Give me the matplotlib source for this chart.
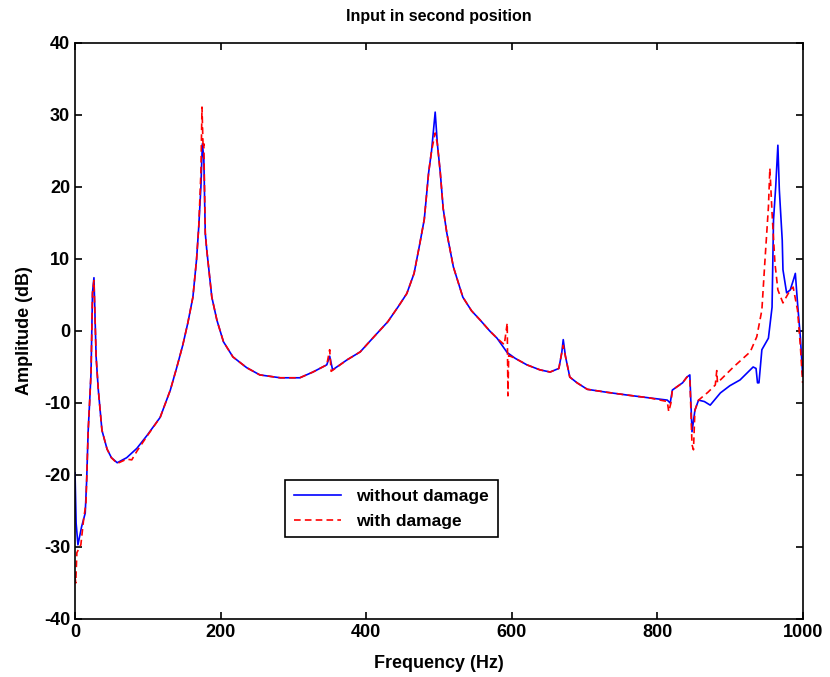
import matplotlib
matplotlib.use("Agg")
import matplotlib.pyplot as plt

# ---- data ----
freq_nodamage = [0, 1.5, 4, 9, 14, 16, 18, 20, 22, 24, 26, 29, 32, 37, 44, 50, 58, 71, 85, 99,
                 117, 131, 140, 148, 155, 162, 167, 170, 173, 175, 177, 179, 181, 188, 195, 204,
                 217, 236, 254, 282, 309, 327, 346, 350, 354, 374, 392, 410, 430, 445, 456, 466,
                 474, 480, 486, 490, 495, 498, 502, 506, 511, 520, 533, 545, 557, 570, 580, 594,
                 605, 621, 639, 653, 665, 669, 671, 674, 680, 690, 704, 730, 759, 790, 814, 818,
                 821, 835, 841, 845, 848, 852, 857, 865, 873, 887, 900, 914, 932, 936, 938, 940,
                 944, 953, 958, 960, 963, 966, 968, 972, 973, 978, 983, 988, 990, 993, 997, 1000]
amp_nodamage = [-19.7, -26.7, -29.7, -27.2, -25.3, -20.7, -14, -10, -5.8, 5.3, 7.4, -3.6, -8.2,
                -13.8, -16.4, -17.6, -18.3, -17.6, -16.3, -14.5, -12, -8.2, -5, -2, 1.1, 4.7, 9.9,
                14.4, 20, 26, 24, 13.6, 11.3, 4.7, 1.5, -1.5, -3.6, -5.1, -6.1, -6.5, -6.5, -5.7,
                -4.7, -3.5, -5.4, -4, -2.9, -0.9, 1.3, 3.5, 5.2, 8, 12.2, 15.5, 22, 25, 30.4, 26,
                22, 17, 13.6, 8.9, 4.7, 2.8, 1.5, 0, -1, -3, -3.8, -4.7, -5.4, -5.7, -5.2, -3,
                -1.2, -3.5, -6.4, -7.2, -8.1, -8.5, -8.9, -9.3, -9.6, -10.0, -8.2, -7.2, -6.4,
                -6.1, -14, -11, -9.6, -9.8, -10.3, -8.6, -7.6, -6.8, -5, -5.2, -7.2, -7.2, -2.6,
                -1, 3.3, 15.4, 20, 25.8, 19.6, 12.6, 8.5, 5.3, 5.7, 7.3, 8, 3.9, -1, -6]

freq_damage = [0, 1, 2.5, 8, 12, 15, 18, 20, 22, 24, 26, 29, 32, 37, 44, 50, 58, 71, 78, 85, 99,
               117, 131, 140, 148, 155, 162, 167, 170, 173, 174.5, 176, 177, 179, 181, 188, 195,
               204, 217, 236, 254, 282, 309, 327, 346, 350, 352, 374, 392, 410, 430, 445, 456,
               466, 474, 480, 486, 490, 495, 498, 502, 506, 511, 520, 533, 545, 557, 570, 580,
               590, 594, 595, 596, 605, 621, 639, 653, 665, 669, 671, 674, 680, 690, 704, 730,
               759, 790, 814, 816, 819, 821, 835, 841, 845, 848, 850, 852, 857, 870, 880, 882,
               883, 905, 928, 937, 944, 948, 953, 955, 958, 962, 966, 973, 983, 987, 993, 997, 1000]
amp_damage = [-34.2, -35, -30.8, -29.7, -26, -24, -14, -10, -5.8, 5.3, 7.0, -3.6, -8.2, -13.8,
              -16.4, -17.6, -18.4, -17.8, -17.9, -16.7, -14.6, -12, -8.2, -5, -2, 1.1, 4.7, 9.9,
              14.4, 22, 31.1, 25.5, 26, 13.6, 11.3, 4.7, 1.5, -1.5, -3.6, -5.1, -6.1, -6.5, -6.5,
              -5.7, -4.7, -2.6, -5.6, -4, -2.9, -0.9, 1.3, 3.5, 5.2, 8, 12.2, 15.5, 22, 25, 27.5,
              26, 22, 17, 13.6, 8.9, 4.7, 2.8, 1.5, 0, -1, -1.9, 1.1, -9, -3.4, -3.8, -4.7, -5.4,
              -5.7, -5.2, -3, -2, -3.5, -6.4, -7.2, -8.1, -8.5, -8.9, -9.3, -9.8, -11.2, -10,
              -8.2, -7.2, -6.4, -6.5, -15.8, -16.5, -11, -9.6, -8.5, -7.5, -5.5, -7.2, -5, -2.9,
              -0.8, 2.9, 9.4, 17.2, 22.6, 16.4, 9.4, 5.7, 3.9, 5.7, 6.1, 2.9, -2.2, -7.2]

title = "Input in second position"
xlabel = "Frequency (Hz)"
ylabel = "Amplitude (dB)"
labels = ["without damage", "with damage"]
xticks = [0, 200, 400, 600, 800, 1000]
yticks = [-40, -30, -20, -10, 0, 10, 20, 30, 40]

plt.rcParams['font.family'] = ['Liberation Sans', 'DejaVu Sans']
plt.rcParams['font.weight'] = 'bold'
plt.rcParams['axes.unicode_minus'] = False

fig = plt.figure(figsize=(8.3, 6.77), dpi=100)
ax = fig.add_axes([0.0904, 0.0857, 0.8766, 0.8508])

ax.plot(freq_nodamage, amp_nodamage, color='#0000ff', lw=1.2, label=labels[0])
ax.plot(freq_damage, amp_damage, color='#ff0000', lw=1.2, ls=(0, (4, 2.5)), label=labels[1])

ax.set_xlim(0, 1000)
ax.set_ylim(-40, 40)
ax.set_xticks(xticks)
ax.set_yticks(yticks)
ax.tick_params(direction='in', top=True, right=True, length=5, width=1.2, labelsize=13)
for lab in ax.get_xticklabels() + ax.get_yticklabels():
    lab.set_fontweight('bold')
for s in ax.spines.values():
    s.set_linewidth(1.2)

ax.set_title(title, fontsize=11.5, fontweight='bold', pad=16)
ax.set_xlabel(xlabel, fontsize=13, fontweight='bold', labelpad=10)
ax.set_ylabel(ylabel, fontsize=13, fontweight='bold', labelpad=8)

leg = ax.legend(loc='upper left', bbox_to_anchor=(0.289, 0.241),
                fancybox=False, edgecolor='black', framealpha=1, fontsize=12.5,
                handlelength=2.7, handletextpad=0.9, borderpad=0.5, labelspacing=0.55,
                borderaxespad=0)
leg.get_frame().set_linewidth(1.2)
for t in leg.get_texts():
    t.set_fontweight('bold')

fig.savefig("out.png", dpi=100)
